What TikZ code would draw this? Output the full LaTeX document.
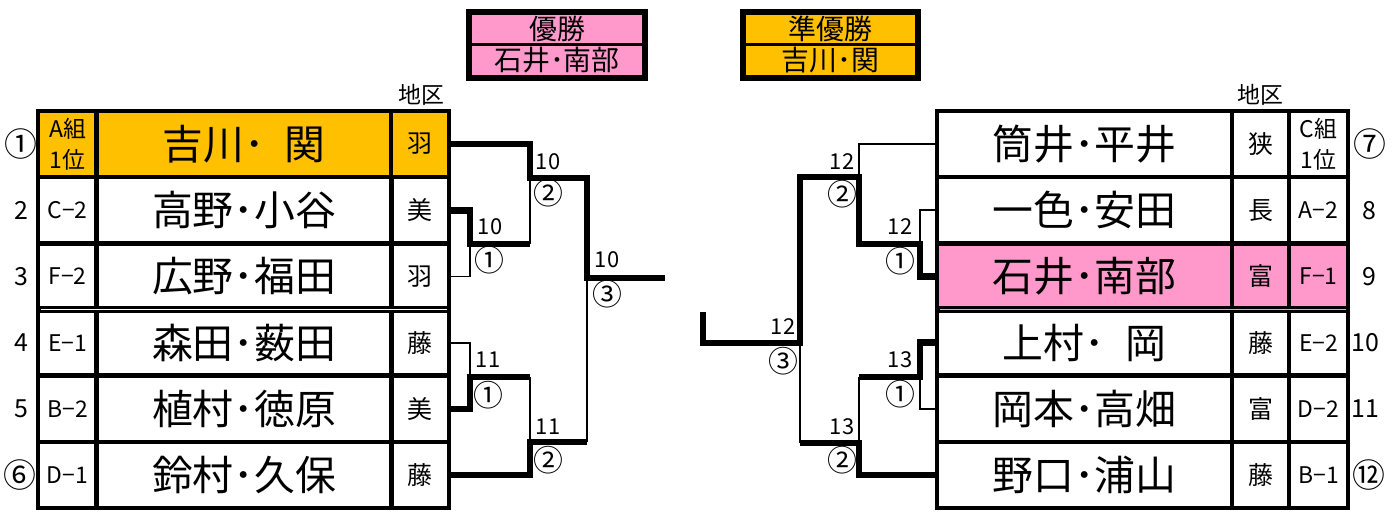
\documentclass[tikz,border=0pt]{standalone}
\usepackage{fontspec}
\setmainfont{Noto Sans CJK JP}

\definecolor{gold}{HTML}{FFC000}
\definecolor{rose}{HTML}{FF99CC}

\tikzset{
	cell/.style = {draw, line width = 4.5bp, minimum height = 66.2bp, inner sep = 0pt, outer sep = 0pt},
	pair/.style = {cell, minimum width = 295bp, font = \fontsize{41}{41}\selectfont},
	area/.style = {cell, minimum width = 58bp, font = \fontsize{25}{25}\selectfont},
	group/.style = {cell, minimum width = 59bp, align = center, font = \fontsize{23}{31}\selectfont},
	seed/.style = {font = \fontsize{25}{25}\selectfont},
	ring/.style = {font = \fontsize{33}{33}\selectfont},
	won/.style = {line width = 6.5bp},
	lost/.style = {line width = 1.8bp},
	score/.style = {font = \fontsize{22}{22}\selectfont},
	heat/.style = {font = \fontsize{30}{30}\selectfont},
	banner/.style = {fill = #1, minimum width = 170bp, minimum height = 28.5bp, inner sep = 0pt, font = \fontsize{28}{28}\selectfont}
}

\begin{document}
\begin{tikzpicture}[x = 1bp, y = -1bp]

	\useasboundingbox (0, 0) rectangle (1397, 512);

	% Winner and runner-up
	
	\node [fill = black, minimum width = 182bp, minimum height = 72bp] (champ) at (557, 45) {};
	\node [banner = rose] (champ-title) at (557, 29) {優勝};
	\node [banner = rose] (champ-pair) at (557, 60.5) {石井･南部};
	
	\node [fill = black, minimum width = 181bp, minimum height = 72bp] (second) at (830.5, 45) {};
	\node [banner = gold, minimum width = 169bp] (second-title) at (830.5, 29) {準優勝};
	\node [banner = gold, minimum width = 169bp] (second-pair) at (830.5, 60.5) {吉川･関};

	% Left block
	
	\node [font = \fontsize{23}{23}\selectfont] (L-head) at (421, 95) {地区};
	
	\node [group, fill = gold] (L1g) at (67.5, 144.1) {A組\\1位};
	\node [pair, fill = gold] (L1n) at (244, 144.1) {吉川･\hspace{0.5em}関};
	\node [area, fill = gold] (L1r) at (420, 144.1) {羽};
	
	\node [group] (L2g) at (67.5, 210.3) {C−2};
	\node [pair] (L2n) at (244, 210.3) {高野･小谷};
	\node [area] (L2r) at (420, 210.3) {美};
	
	\node [group] (L3g) at (67.5, 276.4) {F−2};
	\node [pair] (L3n) at (244, 276.4) {広野･福田};
	\node [area] (L3r) at (420, 276.4) {羽};
	
	\node [group] (L4g) at (67.5, 342.6) {E−1};
	\node [pair] (L4n) at (244, 342.6) {森田･薮田};
	\node [area] (L4r) at (420, 342.6) {藤};
	
	\node [group] (L5g) at (67.5, 408.8) {B−2};
	\node [pair] (L5n) at (244, 408.8) {植村･徳原};
	\node [area] (L5r) at (420, 408.8) {美};
	
	\node [group] (L6g) at (67.5, 474.9) {D−1};
	\node [pair] (L6n) at (244, 474.9) {鈴村･久保};
	\node [area] (L6r) at (420, 474.9) {藤};
	
	\draw [line width = 7bp] (L3g.south west) -- (L3r.south east);
	\draw [white, line width = 1.5bp] ([xshift = 2.5bp] L3g.south west) -- ([xshift = -2.5bp] L3r.south east);
	
	\node [ring] (L1s) at (21, 144.1) {①};
	\node [seed] (L2s) at (21, 210.3) {2};
	\node [seed] (L3s) at (21, 276.4) {3};
	\node [seed] (L4s) at (21, 342.6) {4};
	\node [seed] (L5s) at (21, 408.8) {5};
	\node [ring] (L6s) at (20, 474.9) {⑥};
	
	% Left bracket
	
	\coordinate (la1) at (470, 244);
	\coordinate (la2) at (530, 178);
	\coordinate (lb1) at (470, 377);
	\coordinate (lb2) at (530, 442);
	\coordinate (lf) at (587, 278);
	\coordinate (lend) at (665, 278);
	
	\draw [won] (L1r.east) -| (la2) -| (lf) -- (lend);
	\draw [won] (L2r.east) -| (la1) -- (la1 -| la2);
	\draw [lost] (la1 -| la2) -- (la2);
	\draw [lost] (L3r.east) -| (la1);
	\draw [lost] (L4r.east) -| (lb1);
	\draw [won] (L5r.east) -| (lb1) -- (lb1 -| lb2);
	\draw [lost] (lb1 -| lb2) -- (lb2);
	\draw [won] (L6r.east) -| (lb2) -- (lb2 -| lf);
	\draw [lost] (lb2 -| lf) -- (lf);
	
	\node [score] (la1-score) at (490, 227) {10};
	\node [heat] (la1-heat) at (489, 260) {①};
	\node [score] (la2-score) at (548, 162) {10};
	\node [heat] (la2-heat) at (548, 193) {②};
	\node [score] (lf-score) at (607, 260) {10};
	\node [heat] (lf-heat) at (607, 294) {③};
	\node [score] (lb1-score) at (488, 360) {11};
	\node [heat] (lb1-heat) at (488, 395) {①};
	\node [score] (lb2-score) at (548, 427) {11};
	\node [heat] (lb2-heat) at (548, 460) {②};

	% Right block
	
	\node [font = \fontsize{23}{23}\selectfont] (R-head) at (1260, 95) {地区};
	
	\node [pair] (R1n) at (1084.5, 144.1) {筒井･平井};
	\node [area, minimum width = 57bp] (R1r) at (1260.5, 144.1) {狭};
	\node [group] (R1g) at (1318.5, 144.1) {C組\\1位};
	
	\node [pair] (R2n) at (1084.5, 210.3) {一色･安田};
	\node [area, minimum width = 57bp] (R2r) at (1260.5, 210.3) {長};
	\node [group] (R2g) at (1318.5, 210.3) {A−2};
	
	\node [pair, fill = rose] (R3n) at (1084.5, 276.4) {石井･南部};
	\node [area, minimum width = 57bp, fill = rose] (R3r) at (1260.5, 276.4) {富};
	\node [group, fill = rose] (R3g) at (1318.5, 276.4) {F−1};
	
	\node [pair] (R4n) at (1084.5, 342.6) {上村･\hspace{0.5em}岡};
	\node [area, minimum width = 57bp] (R4r) at (1260.5, 342.6) {藤};
	\node [group] (R4g) at (1318.5, 342.6) {E−2};
	
	\node [pair] (R5n) at (1084.5, 408.8) {岡本･高畑};
	\node [area, minimum width = 57bp] (R5r) at (1260.5, 408.8) {富};
	\node [group] (R5g) at (1318.5, 408.8) {D−2};
	
	\node [pair] (R6n) at (1084.5, 474.9) {野口･浦山};
	\node [area, minimum width = 57bp] (R6r) at (1260.5, 474.9) {藤};
	\node [group] (R6g) at (1318.5, 474.9) {B−1};
	
	\draw [line width = 7bp] (R3n.south west) -- (R3g.south east);
	\draw [rose, line width = 1.5bp] ([xshift = 2.5bp] R3n.south west) -- ([xshift = -2.5bp] R3g.south east);
	
	\node [ring] (R1s) at (1370, 144.1) {⑦};
	\node [seed] (R2s) at (1369, 210.3) {8};
	\node [seed] (R3s) at (1369, 276.4) {9};
	\node [seed] (R4s) at (1365, 342.6) {10};
	\node [seed] (R5s) at (1365, 408.8) {11};
	\node [ring] (R6s) at (1369, 474.9) {⑫};
	
	% Right bracket
	
	\coordinate (ra1) at (920, 244);
	\coordinate (ra2) at (859, 177);
	\coordinate (rb1) at (920, 377);
	\coordinate (rb2) at (859, 443);
	\coordinate (rf) at (800, 343);
	\coordinate (rend) at (703, 343);
	\coordinate (rtop) at (703, 312);
	
	\draw [lost] (R1n.west) -| (ra2);
	\draw [lost] (R2n.west) -| (ra1);
	\draw [won] (R3n.west) -| (ra1) -- (ra1 -| ra2) -- (ra2) -| (rf) -- (rend) -- (rtop);
	\draw [won] (R4n.west) -| (rb1) -- (rb1 -| rb2);
	\draw [lost] (rb1 -| rb2) -- (rb2);
	\draw [lost] (R5n.west) -| (rb1);
	\draw [won] (R6n.west) -| (rb2) -- (rb2 -| rf);
	\draw [lost] (rb2 -| rf) -- (rf);
	
	\node [score] (ra2-score) at (842, 162) {12};
	\node [heat] (ra2-heat) at (842, 194) {②};
	\node [score] (ra1-score) at (900, 227) {12};
	\node [heat] (ra1-heat) at (900, 261) {①};
	\node [score] (rf-score) at (783, 327) {12};
	\node [heat] (rf-heat) at (783, 361) {③};
	\node [score] (rb1-score) at (900, 360) {13};
	\node [heat] (rb1-heat) at (900, 394) {①};
	\node [score] (rb2-score) at (842, 427) {13};
	\node [heat] (rb2-heat) at (842, 460) {②};

\end{tikzpicture}
\end{document}
